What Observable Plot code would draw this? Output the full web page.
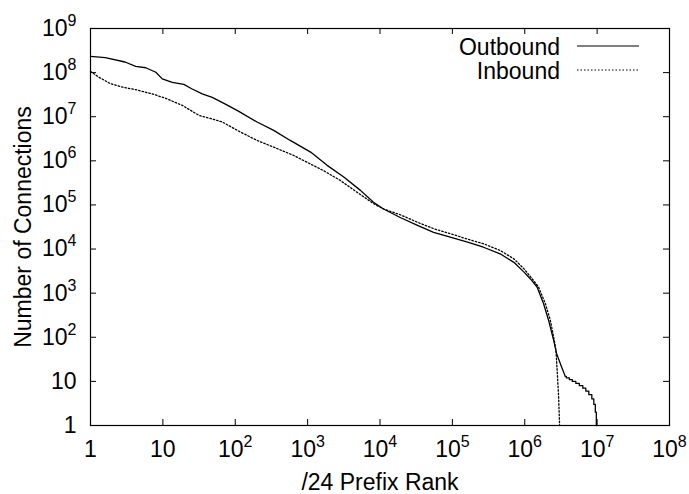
<!DOCTYPE html>
<html>
<head>
<meta charset="utf-8">
<script src="https://cdn.jsdelivr.net/npm/d3@7"></script>
<script src="https://cdn.jsdelivr.net/npm/@observablehq/plot@0.6"></script>
<style>
  body { margin: 0; background: #fff; }
  #chart svg { display: block; font-family: "Liberation Sans", Arial, Helvetica, sans-serif; }
</style>
</head>
<body>
<div id="chart"></div>
<script>
// Outbound connections per /24 prefix, by rank (smooth part)
const outRank = [1, 1.6, 3, 4.2, 5.8, 8, 9.8, 13.5, 19.5, 25, 35, 48, 72, 112, 200, 340, 575, 1100, 1860,
  3160, 5370, 8130, 11200, 19000, 32400, 55000, 93300, 158000, 269000, 457000, 708000, 977000,
  1.2e6, 1.48e6, 1.82e6, 2.14e6, 2.51e6, 2.75e6, 3.24e6, 3.63e6];
const outCount = [2.34e8, 2.19e8, 1.74e8, 1.38e8, 1.29e8, 1.02e8, 7.2e7, 6.0e7, 5.4e7, 4.3e7, 3.3e7, 2.75e7,
  1.95e7, 1.32e7, 7.6e6, 4.9e6, 2.9e6, 1.58e6, 7.9e5, 4.3e5, 2.14e5, 1.15e5, 8.1e4, 5.2e4, 3.5e4, 2.4e4,
  1.86e4, 1.45e4, 1.1e4, 7800, 5000, 3000, 2100, 1380, 575, 240, 85, 43, 21, 13];
// Outbound tail: integer counts, drawn as a staircase
const outTailRank = [3.63e6, 3.76e6, 4.13e6, 4.54e6, 5.08e6, 5.68e6, 6.34e6, 6.98e6, 7.68e6, 8.45e6, 9.0e6, 9.44e6, 9.75e6, 9.85e6];
const outTailCount = [13, 12, 11, 10, 9, 8, 7, 6, 5, 4, 3, 2, 1, 1];

// Inbound connections per /24 prefix, by rank
const inRank = [1, 1.3, 1.89, 2.75, 4.2, 7.1, 11, 18.6, 31.6, 48, 66, 112, 200, 340, 645, 977, 1660, 2820,
  4790, 8130, 11200, 19000, 32400, 55000, 93300, 158000, 269000, 457000, 708000, 977000, 1.26e6, 1.55e6,
  1.93e6, 2.26e6, 2.56e6, 2.70e6, 2.82e6, 2.94e6, 3.03e6];
const inCount = [1.07e8, 7.9e7, 5.6e7, 4.7e7, 4.1e7, 3.3e7, 2.6e7, 1.8e7, 1.07e7, 8.9e6, 7.6e6, 4.7e6, 2.9e6,
  2.04e6, 1.32e6, 9.3e5, 6.0e5, 3.6e5, 1.95e5, 1.07e5, 8.1e4, 6.0e4, 4.1e4, 2.9e4, 2.24e4, 1.7e4, 1.32e4,
  9300, 6000, 3550, 2140, 1380, 575, 240, 85, 50, 15, 4.4, 1];

const xTicks = [1, 1e1, 1e2, 1e3, 1e4, 1e5, 1e6, 1e7, 1e8];
const yTicks = [1, 1e1, 1e2, 1e3, 1e4, 1e5, 1e6, 1e7, 1e8, 1e9];
const xLabel = "/24 Prefix Rank";
const yLabel = "Number of Connections";
const seriesNames = ["Outbound", "Inbound"];

// Layout
const W = 689, H = 494;
const mL = 90, mR = 20, mT = 28, mB = 69;
const innerW = W - mL - mR, innerH = H - mT - mB;
const tickLen = 6;
const fontSize = 23, supSize = 16;
const ink = "#000";

const toRows = (rs, cs) => rs.map((r, i) => ({rank: r, count: cs[i]}));
const outbound = toRows(outRank, outCount);
const outTail = toRows(outTailRank, outTailCount);
const inbound = toRows(inRank, inCount);

// Powers of ten written as "10^k"; turned into superscripts after rendering
const fmt = d => d === 1 ? "1" : d === 10 ? "10" : "10^" + Math.round(Math.log10(d));

const chart = Plot.plot({
  width: W, height: H,
  marginLeft: mL, marginRight: mR, marginTop: mT, marginBottom: mB,
  style: {fontFamily: '"Liberation Sans", Arial, Helvetica, sans-serif', fontSize: fontSize + "px", color: ink, background: "#fff"},
  x: {type: "log", domain: [1, 1e8]},
  y: {type: "log", domain: [1, 1e9]},
  marks: [
    Plot.line(outbound, {x: "rank", y: "count", stroke: ink, strokeWidth: 1.3}),
    Plot.line(outTail, {x: "rank", y: "count", stroke: ink, strokeWidth: 1.3, curve: "step-after"}),
    Plot.line(inbound, {x: "rank", y: "count", stroke: ink, strokeWidth: 1.3, strokeDasharray: "1.5,2"}),
    // inward ticks on all four sides
    Plot.tickX(xTicks, {x: d => d, stroke: ink, insetTop: innerH - tickLen}),
    Plot.tickX(xTicks, {x: d => d, stroke: ink, insetBottom: innerH - tickLen}),
    Plot.tickY(yTicks, {y: d => d, stroke: ink, insetRight: innerW - tickLen}),
    Plot.tickY(yTicks, {y: d => d, stroke: ink, insetLeft: innerW - tickLen}),
    Plot.axisX(xTicks, {anchor: "bottom", tickSize: 0, tickPadding: 15, tickFormat: fmt, label: null, fill: ink}),
    Plot.axisY(yTicks, {anchor: "left", tickSize: 0, tickPadding: 14, tickFormat: fmt, label: null, fill: ink}),
    Plot.text([xLabel], {frameAnchor: "bottom", textAnchor: "middle", lineAnchor: "bottom", dy: 64, fill: ink}),
    Plot.text([yLabel], {frameAnchor: "left", textAnchor: "middle", rotate: -90, lineAnchor: "bottom", dx: -60, fill: ink}),
    Plot.frame({stroke: ink, strokeWidth: 1.2})
  ]
});

document.getElementById("chart").appendChild(chart);

// Superscript exponents in tick labels
const svg = d3.select(chart);
svg.selectAll('g[aria-label="x-axis tick label"] text, g[aria-label="y-axis tick label"] text').each(function () {
  const s = this.textContent;
  const k = s.indexOf("^");
  if (k < 0) return;
  const el = d3.select(this);
  el.text(s.slice(0, k));
  el.append("tspan").attr("dy", -10).attr("font-size", supSize).text(s.slice(k + 1));
});

// Key in the upper right corner
const right = W - mR;
const key = svg.append("g").attr("font-size", fontSize).attr("fill", ink);
seriesNames.forEach((name, i) => {
  const y = mT + 18 + i * 24;
  key.append("text").attr("x", right - 109).attr("y", y + 8.5).attr("text-anchor", "end").text(name);
  key.append("line")
    .attr("x1", right - 92).attr("x2", right - 30).attr("y1", y).attr("y2", y)
    .attr("stroke", ink).attr("stroke-width", 1)
    .attr("stroke-dasharray", i === 1 ? "1.5,2" : null);
});
</script>
</body>
</html>
